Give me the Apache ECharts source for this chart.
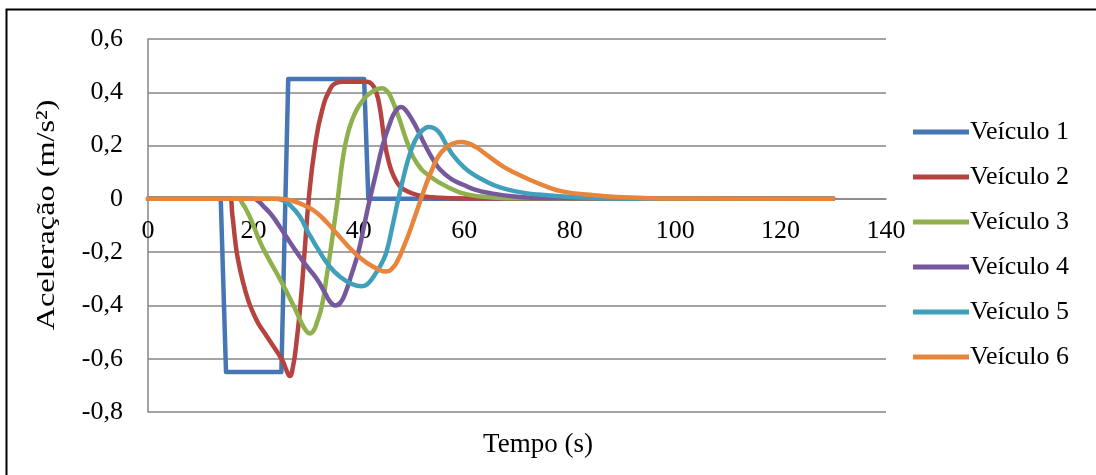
<!DOCTYPE html>
<html>
<head>
<meta charset="utf-8">
<script src="https://cdn.jsdelivr.net/npm/echarts@6/dist/echarts.min.js"></script>
<style>
  html, body { margin: 0; padding: 0; background: #fff; }
  #chart { width: 1096px; height: 475px; }
</style>
</head>
<body>
<div id="chart"></div>
<script>
// Acceleration (m/s²) of each vehicle over time (s)
const tempo1 = [0, 13.8, 14.8, 25.3, 26.6, 41.0, 41.8, 130];
const veiculo1 = [0, 0, -0.65, -0.65, 0.45, 0.45, 0, 0];

const tempo2 = [0, 15.5, 16, 16.5, 17, 18, 19, 20, 21, 22, 23, 24, 25, 25.7, 26.3, 26.9, 27.5, 28.1, 28.9, 29.7, 30.5, 31.7, 33, 34.5, 35.7, 37, 39, 41.5, 42.5, 43.3, 44, 44.5, 45, 45.6, 46.2, 47, 47.8, 49, 51, 54, 60, 130];
const veiculo2 = [0, 0, -0.06, -0.15, -0.22, -0.31, -0.38, -0.43, -0.47, -0.5, -0.53, -0.56, -0.59, -0.615, -0.645, -0.665, -0.63, -0.55, -0.4, -0.2, 0, 0.2, 0.33, 0.41, 0.435, 0.44, 0.44, 0.44, 0.43, 0.4, 0.34, 0.27, 0.2, 0.145, 0.105, 0.07, 0.047, 0.03, 0.015, 0.006, 0.001, 0];

const tempo3 = [0, 17, 18, 19, 20, 21, 22.2, 25, 27.6, 29, 30, 30.7, 31.4, 32, 33, 33.9, 34.8, 35.5, 36, 36.6, 37.2, 37.9, 38.7, 39.6, 40.6, 41.6, 42.7, 43.6, 44.4, 45.3, 46, 47.5, 49.4, 51, 53.5, 57.3, 61, 65, 70, 130];
const veiculo3 = [0, 0, -0.02, -0.055, -0.1, -0.15, -0.2, -0.3, -0.4, -0.46, -0.495, -0.505, -0.495, -0.467, -0.4, -0.29, -0.17, -0.07, 0, 0.1, 0.18, 0.245, 0.295, 0.335, 0.365, 0.388, 0.404, 0.413, 0.415, 0.405, 0.385, 0.31, 0.2, 0.134, 0.084, 0.04, 0.015, 0.006, 0.002, 0];

const tempo4 = [0, 20, 21, 22, 23, 24, 26, 28.2, 30, 32, 33.5, 34.5, 35.5, 36.5, 37.5, 38.5, 39.9, 41, 42.1, 43.3, 44.5, 46, 47, 48, 49, 50, 51, 52.6, 54, 55.4, 57.5, 59.8, 62, 65, 70, 75, 130];
const veiculo4 = [0, 0, -0.01, -0.03, -0.05, -0.075, -0.135, -0.2, -0.25, -0.3, -0.35, -0.385, -0.4, -0.39, -0.35, -0.29, -0.2, -0.1, 0, 0.1, 0.2, 0.29, 0.33, 0.345, 0.33, 0.3, 0.265, 0.2, 0.15, 0.11, 0.075, 0.053, 0.035, 0.021, 0.008, 0.003, 0];

const tempo5 = [0, 24, 25.5, 27, 28.8, 30.5, 32.6, 34.5, 36.4, 38.5, 40.5, 41.5, 42.5, 43.5, 44.5, 45.3, 46.4, 47.5, 48.7, 49.7, 50.7, 51.7, 52.5, 53.2, 54.2, 55.2, 56, 56.7, 58, 59.8, 61.5, 63.6, 66.5, 70, 74, 78.8, 85, 90, 130];
const veiculo5 = [0, 0, -0.005, -0.025, -0.066, -0.13, -0.2, -0.255, -0.292, -0.318, -0.328, -0.322, -0.3, -0.27, -0.235, -0.195, -0.1, 0, 0.1, 0.17, 0.22, 0.25, 0.264, 0.27, 0.266, 0.25, 0.225, 0.2, 0.16, 0.121, 0.095, 0.071, 0.045, 0.027, 0.016, 0.009, 0.003, 0.001, 0];

const tempo6 = [0, 25, 27.5, 30.1, 32, 33.9, 35.8, 37.7, 39.6, 41.5, 43.4, 45.2, 46.3, 47.4, 48.4, 49.5, 50.6, 51.8, 52.9, 54, 55.1, 56.4, 57.8, 59.3, 60.8, 62.3, 63.8, 65.3, 67.4, 70, 72.5, 75.5, 78.8, 83.9, 88, 93, 100, 130];
const veiculo6 = [0, 0, -0.008, -0.029, -0.052, -0.088, -0.13, -0.172, -0.21, -0.24, -0.262, -0.273, -0.262, -0.23, -0.185, -0.13, -0.068, 0, 0.062, 0.115, 0.16, 0.19, 0.207, 0.213, 0.208, 0.193, 0.172, 0.15, 0.121, 0.094, 0.071, 0.047, 0.027, 0.015, 0.008, 0.004, 0.001, 0];

const nomes = ['Veículo 1', 'Veículo 2', 'Veículo 3', 'Veículo 4', 'Veículo 5', 'Veículo 6'];
const cores = ['#4676B4', '#B5433F', '#8FB14D', '#76599C', '#40A0BB', '#E6853B'];

const tempos = [tempo1, tempo2, tempo3, tempo4, tempo5, tempo6];
const valores = [veiculo1, veiculo2, veiculo3, veiculo4, veiculo5, veiculo6];

const fonte = '"Liberation Serif", "Times New Roman", serif';
const Y_MIN = -0.8;

const series = nomes.map((nome, i) => ({
  name: nome,
  type: 'line',
  data: tempos[i].map((t, k) => [t, valores[i][k]]),
  showSymbol: false,
  symbol: 'none',
  smooth: i === 0 ? false : 0.5,
  lineStyle: { color: cores[i], width: 4.5, cap: 'round', join: 'round' },
  itemStyle: { color: cores[i] },
  emphasis: { disabled: true },
  z: 2 + i
}));

const chart = echarts.init(document.getElementById('chart'), null, { renderer: 'canvas' });

chart.setOption({
  animation: false,
  backgroundColor: '#ffffff',
  grid: { left: 148, right: 210, top: 39, bottom: 63, containLabel: false },
  xAxis: {
    type: 'value',
    min: 0,
    max: 140,
    interval: 20,
    axisLine: { show: true, onZero: false, lineStyle: { color: '#868686', width: 1.5 } },
    axisTick: { show: false },
    splitLine: { show: false },
    axisLabel: { color: '#000', fontFamily: fonte, fontSize: 26, margin: 19 }
  },
  yAxis: {
    type: 'value',
    min: Y_MIN,
    max: 0.6,
    interval: 0.2,
    axisLine: { show: true, lineStyle: { color: '#868686', width: 1.5 } },
    axisTick: { show: false },
    splitLine: { show: true, lineStyle: { color: '#868686', width: 1.5 } },
    axisLabel: {
      color: '#000', fontFamily: fonte, fontSize: 26, margin: 25,
      formatter: v => Math.abs(v) < 1e-9 ? '0' : v.toFixed(1).replace('.', ',')
    }
  },
  legend: {
    orient: 'vertical',
    left: 913,
    top: 119,
    padding: 0,
    itemWidth: 56,
    itemHeight: 14,
    itemGap: 19,
    icon: 'path://M0,0 L56,0 L56,5 L0,5 Z',
    textStyle: { color: '#000', fontFamily: fonte, fontSize: 26, padding: [0, 0, 0, -4] },
    data: nomes
  },
  graphic: [
    {
      type: 'rect',
      shape: { x: 6.5, y: 9.5, width: 1200, height: 600 },
      style: { fill: 'none', stroke: '#000', lineWidth: 2 },
      silent: true
    },
    {
      type: 'text',
      x: 47,
      y: 215,
      rotation: Math.PI / 2,
      scaleX: 1.24,
      style: {
        text: 'Aceleração (m/s²)',
        fontFamily: fonte, fontSize: 26, fill: '#000',
        align: 'center', verticalAlign: 'middle'
      }
    },
    {
      type: 'text',
      x: 538,
      y: 445,
      style: {
        text: 'Tempo (s)',
        fontFamily: fonte, fontSize: 27, fill: '#000',
        align: 'center', verticalAlign: 'middle'
      }
    }
  ],
  series: series
});

// The time axis crosses the acceleration axis at zero
const yZero = chart.convertToPixel({ yAxisIndex: 0 }, 0);
const yBase = chart.convertToPixel({ yAxisIndex: 0 }, Y_MIN);
chart.setOption({ xAxis: { offset: yZero - yBase } });
</script>
</body>
</html>
